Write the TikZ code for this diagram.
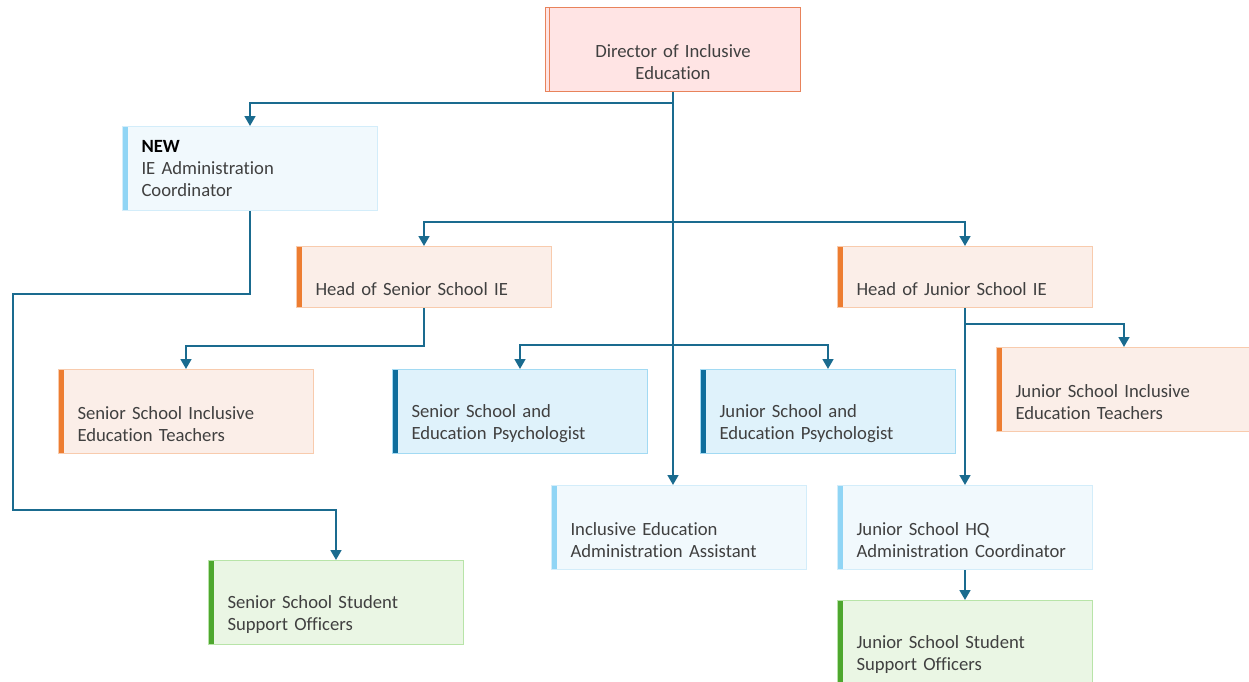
\documentclass[tikz,border=0pt]{standalone}
\usepackage{fontspec}
\setmainfont{Carlito}[Ligatures=NoCommon]
\usetikzlibrary{arrows.meta}

\definecolor{linie}{HTML}{1A6B8F}
\definecolor{schrift}{HTML}{404040}
% Farben der Kaesten
\definecolor{orstreifen}{HTML}{ED7D31}
\definecolor{orfill}{HTML}{FBEEE8}
\definecolor{orrand}{HTML}{F8CBAD}
\definecolor{dirfill}{HTML}{FFE4E4}
\definecolor{dirrand}{HTML}{E8835B}
\definecolor{hbstreifen}{HTML}{90D5F5}
\definecolor{hbfill}{HTML}{F1F9FD}
\definecolor{hbrand}{HTML}{D3EDFA}
\definecolor{dbstreifen}{HTML}{0F6E9D}
\definecolor{dbfill}{HTML}{DFF2FB}
\definecolor{dbrand}{HTML}{A2DAF3}
\definecolor{grstreifen}{HTML}{4EA72E}
\definecolor{grfill}{HTML}{EAF6E4}
\definecolor{grrand}{HTML}{B8E4A8}

\begin{document}
\begin{tikzpicture}[x=0.6pt,y=-0.6pt,
	box/.style={rectangle, anchor=north west, minimum width=153pt, minimum height=50.4pt,
		inner xsep=11.4pt, inner ysep=0pt, text width=130.2pt, align=left,
		text=schrift, font=\fontsize{11.2pt}{13.2pt}\selectfont, line width=0.6pt},
	kopf/.style={box, minimum height=36.6pt},
	streifen/.style={path picture={\fill[#1] (path picture bounding box.south west)
		rectangle ([xshift=3pt]path picture bounding box.north west);}},
	orbox/.style={box, fill=orfill, draw=orrand, streifen=orstreifen},
	hbbox/.style={box, fill=hbfill, draw=hbrand, streifen=hbstreifen},
	dbbox/.style={box, fill=dbfill, draw=dbrand, streifen=dbstreifen},
	grbox/.style={box, fill=grfill, draw=grrand, streifen=grstreifen},
	conn/.style={draw=linie, line width=1.3pt, -{Triangle[width=6.5pt,length=6pt]}}]
	\useasboundingbox (0,0) rectangle (1249,681);

	% Leitung
	\node[box, fill=dirfill, draw=dirrand, align=center,
		path picture={\draw[dirrand] ([xshift=2.4pt]path picture bounding box.south west)
			-- ([xshift=2.4pt]path picture bounding box.north west);}]
		(dir) at (545,7) {\strut\\Director of Inclusive\\Education};
	\node[hbbox] (neu) at (122,126) {{\bfseries\color{black}NEW}\\IE Administration\\Coordinator};

	% Schulleitungen IE
	\node[orbox, kopf] (hss) at (296,246) {\strut\\Head of Senior School IE};
	\node[orbox, kopf] (hjs) at (837,246) {\strut\\Head of Junior School IE};

	% zweite Ebene
	\node[orbox] (sst) at (58,369) {\strut\\Senior School Inclusive\\Education Teachers};
	\node[dbbox] (sps) at (392,369) {\strut\\Senior School and\\Education Psychologist};
	\node[dbbox] (jps) at (700,369) {\strut\\Junior School and\\Education Psychologist};
	\node[orbox] (jst) at (996,347) {\strut\\Junior School Inclusive\\Education Teachers};

	% Verwaltung und Betreuung
	\node[hbbox] (ass) at (551,485) {\strut\\Inclusive Education\\Administration Assistant};
	\node[hbbox] (jhq) at (837,485) {\strut\\Junior School HQ\\Administration Coordinator};
	\node[grbox] (sso) at (208,560) {\strut\\Senior School Student\\Support Officers};
	\node[grbox] (jso) at (837,600) {\strut\\Junior School Student\\Support Officers};

	% Abzweigpunkte am Hauptstrang
	\coordinate (ast1) at (672.5,222);
	\coordinate (ast2) at (672.5,345);
	\coordinate (knick) at (13,294);

	% Verbindungen
	\draw[conn] (dir.south) -- (dir.south |- ass.north);
	\draw[conn] (dir.south) -- ++(0,11) -| (neu.north);
	\draw[conn] (ast1) -| (hss.north);
	\draw[conn] (ast1) -| (hjs.north);
	\draw[conn] (ast2) -| (sps.north);
	\draw[conn] (ast2) -| (jps.north);
	\draw[conn] (hss.south) -- ++(0,38) -| (sst.north);
	\draw[conn] (hjs.south) -- ++(0,16) -| (jst.north);
	\draw[conn] (hjs.south) -- (hjs.south |- jhq.north);
	\draw[conn] (jhq.south) -- (jhq.south |- jso.north);
	\draw[conn] (neu.south) |- (knick) -- (13,510) -| (sso.north);
\end{tikzpicture}
\end{document}
